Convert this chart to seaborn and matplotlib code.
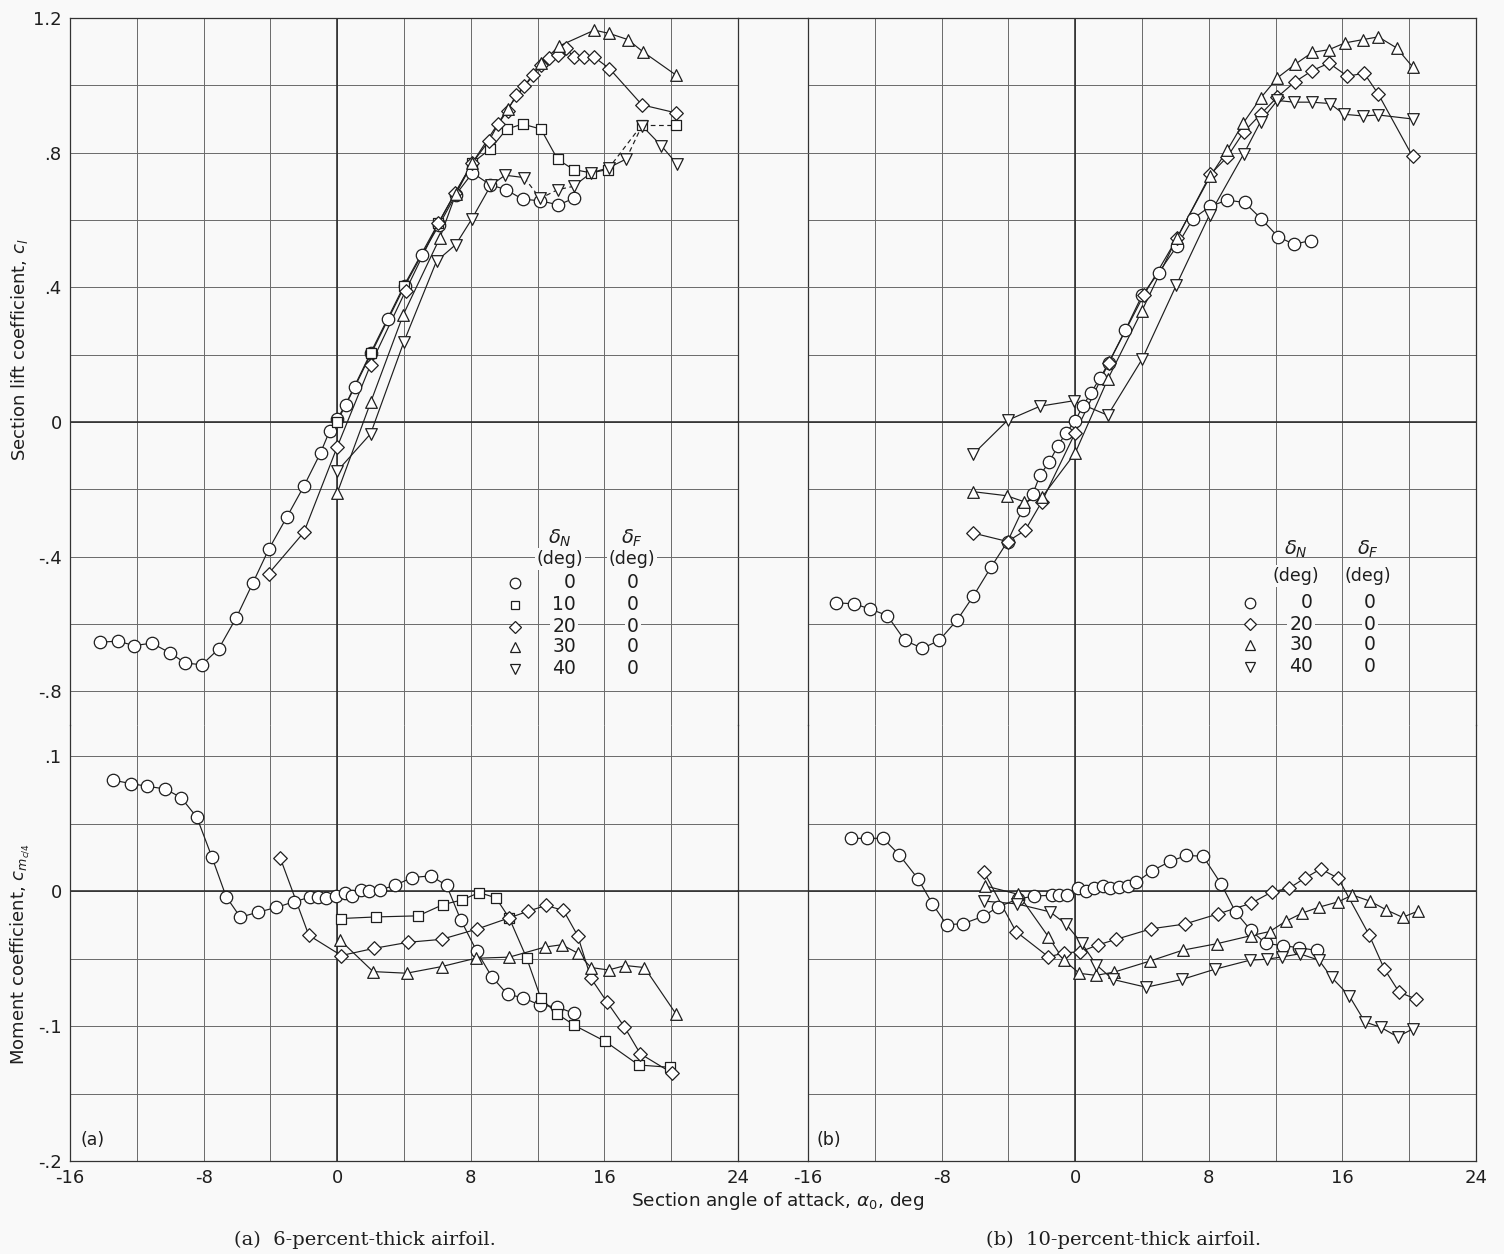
import numpy as np
import pandas as pd
import matplotlib
matplotlib.use("Agg")
import matplotlib.pyplot as plt
from matplotlib.lines import Line2D
import seaborn as sns

# ---------------- data: (a) 6-percent-thick airfoil, lift ----------------
a_lift_alpha_0 = [-14.2, -13.15, -12.15, -11.1, -10.0, -9.1, -8.1, -7.1, -6.05, -5.05, -4.1, -3.0, -2.0, -1.0,
                  -0.45, 0.0, 0.5, 1.05, 2.05, 3.05, 4.05, 5.05, 6.1, 7.1, 8.1, 9.15, 10.1, 11.1, 12.15, 13.25, 14.2]
a_lift_cl_0 = [-0.654, -0.651, -0.664, -0.657, -0.686, -0.716, -0.721, -0.674, -0.582, -0.478, -0.378, -0.281,
               -0.191, -0.092, -0.026, 0.01, 0.05, 0.104, 0.205, 0.305, 0.405, 0.495, 0.585, 0.675, 0.74, 0.705,
               0.69, 0.662, 0.657, 0.645, 0.665]
a_lift_alpha_10 = [0.0, 2.0, 4.0, 6.05, 8.1, 9.15, 10.15, 11.1, 12.2, 13.2, 14.15, 15.2, 16.2, 18.25, 20.3]
a_lift_cl_10 = [0.0, 0.205, 0.405, 0.59, 0.77, 0.81, 0.87, 0.885, 0.87, 0.78, 0.75, 0.74, 0.75, 0.883, 0.883]
a_lift_alpha_20 = [-4.1, -2.0, 0.0, 2.0, 4.1, 6.05, 7.05, 8.1, 9.1, 9.65, 10.2, 10.7, 11.2, 11.75, 12.2, 12.7,
                   13.25, 13.7, 14.15, 14.75, 15.35, 16.3, 18.25, 20.3]
a_lift_cl_20 = [-0.45, -0.328, -0.074, 0.17, 0.39, 0.59, 0.68, 0.77, 0.836, 0.886, 0.925, 0.97, 0.997, 1.03,
                1.06, 1.08, 1.09, 1.11, 1.085, 1.085, 1.085, 1.05, 0.942, 0.918]
a_lift_alpha_30 = [0.0, 2.0, 3.95, 6.15, 7.1, 8.1, 10.2, 12.2, 13.3, 15.4, 16.3, 17.4, 18.3, 20.3]
a_lift_cl_30 = [-0.211, 0.058, 0.318, 0.547, 0.677, 0.77, 0.93, 1.065, 1.117, 1.164, 1.154, 1.136, 1.10, 1.03]
a_lift_alpha_40 = [0.0, 2.0, 4.0, 5.95, 7.1, 8.05, 9.2, 10.05, 11.2, 12.15, 13.2, 14.15, 15.2, 16.25, 17.3,
                   18.25, 19.4, 20.35]
a_lift_cl_40 = [-0.146, -0.035, 0.239, 0.478, 0.527, 0.602, 0.703, 0.733, 0.726, 0.664, 0.69, 0.70, 0.74, 0.755,
                0.781, 0.88, 0.821, 0.766]

# ---------------- data: (a) moment ----------------
a_mom_alpha_0 = [-13.4, -12.35, -11.4, -10.3, -9.35, -8.4, -7.5, -6.65, -5.8, -4.75, -3.65, -2.6, -1.6, -1.15,
                 -0.65, -0.1, 0.45, 0.9, 1.4, 1.9, 2.55, 3.45, 4.5, 5.6, 6.55, 7.4, 8.35, 9.25, 10.2, 11.1, 12.15,
                 13.15, 14.15]
a_mom_cm_0 = [0.082, 0.0796, 0.0776, 0.0756, 0.0692, 0.0545, 0.0251, -0.0042, -0.0194, -0.0157, -0.0122, -0.008,
              -0.0045, -0.0045, -0.005, -0.004, -0.0017, -0.0035, 0.0005, -0.0002, 0.0007, 0.0042, 0.010, 0.0112,
              0.0042, -0.0214, -0.0445, -0.0634, -0.0766, -0.0789, -0.0846, -0.0858, -0.0905]
a_mom_alpha_10 = [0.2, 2.35, 4.85, 6.35, 7.45, 8.5, 9.5, 10.3, 11.35, 12.2, 13.15, 14.2, 16.05, 18.05, 19.95]
a_mom_cm_10 = [-0.0204, -0.0192, -0.0184, -0.010, -0.0067, -0.0012, -0.005, -0.020, -0.0498, -0.0796, -0.0908,
               -0.0995, -0.1114, -0.1289, -0.1306]
a_mom_alpha_20 = [-3.4, -1.7, 0.25, 2.2, 4.25, 6.25, 8.4, 10.3, 11.45, 12.5, 13.55, 14.4, 15.2, 16.15, 17.2,
                  18.15, 20.05]
a_mom_cm_20 = [0.0241, -0.0328, -0.0478, -0.0425, -0.038, -0.0358, -0.0281, -0.0199, -0.0149, -0.0107, -0.0144,
               -0.0331, -0.0647, -0.0821, -0.1007, -0.1206, -0.1348]
a_mom_alpha_30 = [0.15, 2.15, 4.15, 6.25, 8.3, 10.3, 12.45, 13.45, 14.4, 15.2, 16.25, 17.25, 18.4, 20.3]
a_mom_cm_30 = [-0.0361, -0.0597, -0.0609, -0.056, -0.0498, -0.049, -0.0415, -0.0398, -0.046, -0.0567, -0.0585,
               -0.0552, -0.0567, -0.0913]

# ---------------- data: (b) 10-percent-thick airfoil, lift ----------------
b_lift_alpha_0 = [-14.35, -13.25, -12.3, -11.25, -10.2, -9.15, -8.15, -7.05, -6.1, -5.05, -4.05, -3.15, -2.55,
                  -2.1, -1.55, -1.05, -0.55, 0.0, 0.45, 0.95, 1.5, 2.0, 3.0, 4.0, 5.0, 6.1, 7.05, 8.1, 9.1, 10.15,
                  11.15, 12.15, 13.1, 14.1]
b_lift_cl_0 = [-0.537, -0.54, -0.555, -0.575, -0.649, -0.672, -0.649, -0.587, -0.517, -0.432, -0.355, -0.26,
               -0.215, -0.157, -0.119, -0.072, -0.032, 0.003, 0.047, 0.087, 0.132, 0.175, 0.273, 0.376, 0.444,
               0.523, 0.604, 0.641, 0.659, 0.652, 0.603, 0.55, 0.528, 0.539]
b_lift_alpha_20 = [-6.1, -4.05, -3.0, -2.0, 0.0, 2.0, 4.1, 6.1, 8.1, 9.1, 10.1, 11.1, 12.1, 13.15, 14.2, 15.2,
                   16.3, 17.3, 18.15, 20.2]
b_lift_cl_20 = [-0.33, -0.355, -0.322, -0.237, -0.032, 0.175, 0.376, 0.546, 0.736, 0.787, 0.862, 0.914, 0.965,
                1.01, 1.044, 1.066, 1.027, 1.036, 0.974, 0.789]
b_lift_alpha_30 = [-6.1, -4.1, -3.05, -2.0, 0.0, 1.95, 4.0, 6.1, 8.1, 9.1, 10.05, 11.1, 12.1, 13.15, 14.2, 15.2,
                   16.15, 17.25, 18.15, 19.25, 20.2]
b_lift_cl_30 = [-0.207, -0.219, -0.237, -0.224, -0.092, 0.127, 0.331, 0.548, 0.731, 0.807, 0.887, 0.962, 1.022,
                1.062, 1.098, 1.106, 1.126, 1.136, 1.144, 1.111, 1.055]
b_lift_alpha_40 = [-6.1, -4.05, -2.1, -0.1, 1.95, 4.0, 6.05, 8.05, 10.1, 11.1, 12.1, 13.1, 14.15, 15.25, 16.1,
                   17.25, 18.15, 20.2]
b_lift_cl_40 = [-0.095, 0.005, 0.047, 0.063, 0.02, 0.186, 0.406, 0.616, 0.797, 0.892, 0.955, 0.95, 0.95, 0.946,
                0.914, 0.909, 0.912, 0.90]

# ---------------- data: (b) moment ----------------
b_mom_alpha_0 = [-13.45, -12.45, -11.5, -10.55, -9.4, -8.55, -7.7, -6.7, -5.5, -4.65, -3.45, -2.45, -1.4, -0.95,
                 -0.5, 0.15, 0.65, 1.1, 1.65, 2.1, 2.6, 3.15, 3.65, 4.6, 5.7, 6.65, 7.65, 8.75, 9.6, 10.5, 11.4,
                 12.45, 13.4, 14.45]
b_mom_cm_0 = [0.039, 0.039, 0.039, 0.027, 0.0088, -0.0095, -0.025, -0.0242, -0.0187, -0.012, -0.006, -0.0037,
              -0.0032, -0.003, -0.003, 0.0025, 0.0001, 0.002, 0.0035, 0.002, 0.003, 0.0037, 0.0063, 0.015, 0.022,
              0.0263, 0.0258, 0.005, -0.0155, -0.0289, -0.0388, -0.0405, -0.042, -0.044]
b_mom_alpha_20 = [-5.45, -3.55, -1.6, -0.65, 0.3, 1.35, 2.45, 4.55, 6.55, 8.55, 10.55, 11.8, 12.8, 13.75, 14.7,
                  15.75, 17.6, 18.5, 19.4, 20.4]
b_mom_cm_20 = [0.0138, -0.030, -0.0488, -0.0458, -0.045, -0.040, -0.0358, -0.028, -0.0245, -0.017, -0.009,
               -0.0005, 0.002, 0.0095, 0.0163, 0.0095, -0.0325, -0.0575, -0.075, -0.080]
b_mom_alpha_30 = [-5.4, -3.4, -1.6, -0.7, 0.25, 1.25, 2.35, 4.45, 6.45, 8.5, 10.55, 11.65, 12.6, 13.6, 14.6,
                  15.75, 16.6, 17.65, 18.6, 19.6, 20.5]
b_mom_cm_30 = [0.0038, -0.0025, -0.034, -0.051, -0.061, -0.0625, -0.060, -0.052, -0.0438, -0.039, -0.033, -0.030,
               -0.0225, -0.0163, -0.012, -0.008, -0.003, -0.0075, -0.0138, -0.0195, -0.015]
b_mom_alpha_40 = [-5.45, -3.5, -1.5, -0.55, 0.4, 1.25, 2.25, 4.25, 6.4, 8.35, 10.45, 11.5, 12.4, 13.45, 14.6,
                  15.35, 16.4, 17.35, 18.3, 19.3, 20.25]
b_mom_cm_40 = [-0.0075, -0.0095, -0.0155, -0.0245, -0.0388, -0.0545, -0.0655, -0.0713, -0.0655, -0.058, -0.0513,
               -0.0505, -0.0488, -0.0465, -0.0513, -0.064, -0.0775, -0.097, -0.101, -0.108, -0.102]

legend_a_deltaN = ["0", "10", "20", "30", "40"]
legend_b_deltaN = ["0", "20", "30", "40"]
legend_deltaF = "0"

lift_ticks = [-0.8, -0.4, 0.0, 0.4, 0.8, 1.2]
lift_tick_labels = ["-.8", "-.4", "0", ".4", ".8", "1.2"]
mom_ticks = [-0.2, -0.1, 0.0, 0.1]
mom_tick_labels = ["-.2", "-.1", "0", ".1"]
x_ticks = [-16, -8, 0, 8, 16, 24]
x_tick_labels = ["-16", "-8", "0", "8", "16", "24"]

MARK = {"0": "o", "10": "s", "20": "D", "30": "^", "40": "v"}
MSIZE = {"0": 80, "10": 58, "20": 48, "30": 70, "40": 70}

# ---------------- figure ----------------
sns.set_theme(style="white")
plt.rcParams["font.family"] = ["DejaVu Sans"]
plt.rcParams["mathtext.fontset"] = "dejavusans"
INK = "#1e1e1e"
GRID = "#6a6a6a"
BG = "#f9f9f9"

W, H = 1504, 1254
fig = plt.figure(figsize=(W / 100, H / 100), dpi=100)
fig.patch.set_facecolor(BG)


def rect(x0, y0, x1, y1):
    return [x0 / W, 1 - y1 / H, (x1 - x0) / W, (y1 - y0) / H]


L0, L1, R0, R1 = 70, 738, 808, 1476
TOP, MID, BOT = 18, 725, 1161
LIFT_LIM = (-0.9, 1.2)
MOM_LIM = (-0.2, -0.2 + (BOT - MID) / 1350.0)

axLa = fig.add_axes(rect(L0, TOP, L1, MID))
axMa = fig.add_axes(rect(L0, MID, L1, BOT))
axLb = fig.add_axes(rect(R0, TOP, R1, MID))
axMb = fig.add_axes(rect(R0, MID, R1, BOT))


def style_axes(ax, kind, ylabels):
    ax.set_facecolor("none")
    ax.set_xlim(-16, 24)
    xt = np.arange(-16, 25, 4)
    ax.set_xticks(xt)
    if kind == "lift":
        ax.set_ylim(*LIFT_LIM)
        yt = np.round(np.arange(-0.8, 1.21, 0.2), 2)
        labs = {round(v, 2): s for v, s in zip(lift_ticks, lift_tick_labels)}
        ax.set_xticklabels([""] * len(xt))
        ax.spines["bottom"].set_visible(False)
        nd = 2
    else:
        ax.set_ylim(*MOM_LIM)
        yt = np.round(np.arange(-0.2, 0.101, 0.05), 3)
        labs = {round(v, 3): s for v, s in zip(mom_ticks, mom_tick_labels)}
        xl = {v: s for v, s in zip(x_ticks, x_tick_labels)}
        ax.set_xticklabels([xl.get(int(v), "") for v in xt], fontsize=13, color=INK)
        ax.spines["top"].set_visible(False)
        nd = 3
    ax.set_yticks(yt)
    if ylabels:
        ax.set_yticklabels([labs.get(round(v, nd), "") for v in yt], fontsize=13, color=INK)
    else:
        ax.set_yticklabels([""] * len(yt))
    ax.tick_params(length=0, pad=6)
    ax.grid(True, color=GRID, lw=0.7)
    for s in ["left", "right", "top", "bottom"]:
        ax.spines[s].set_color("#333333")
        ax.spines[s].set_linewidth(0.9)
    ax.axhline(0, color="#2a2a2a", lw=1.15, zorder=1)
    ax.axvline(0, color="#2a2a2a", lw=1.15, zorder=1)


style_axes(axLa, "lift", True)
style_axes(axMa, "mom", True)
style_axes(axLb, "lift", False)
style_axes(axMb, "mom", False)

# horizontal rules across the gap between the two panels (major values only)
inv = fig.transFigure.inverted()
x_gap0 = inv.transform(axLa.transData.transform((24, 0)))[0]
x_gap1 = inv.transform(axLb.transData.transform((-16, 0)))[0]
for ax, vals in [(axLa, lift_ticks), (axMa, mom_ticks)]:
    for v in vals:
        yf = inv.transform(ax.transData.transform((0, v)))[1]
        lw = 1.15 if v == 0 else (0.9 if v in (1.2, -0.2) else 0.7)
        col = "#2a2a2a" if v == 0 else ("#333333" if v in (1.2, -0.2) else GRID)
        fig.add_artist(Line2D([x_gap0, x_gap1], [yf, yf], transform=fig.transFigure, color=col, lw=lw))


def series(ax, x, y, key, dashed_ranges=()):
    df = pd.DataFrame({"alpha": x, "c": y})
    xs = np.array(x)
    bounds = sorted(set([xs[0], xs[-1]] + [b for r in dashed_ranges for b in r]))
    for i in range(len(bounds) - 1):
        lo, hi = bounds[i], bounds[i + 1]
        seg = df[(df.alpha >= lo - 1e-9) & (df.alpha <= hi + 1e-9)]
        if len(seg) < 2:
            continue
        dashed = any(abs(lo - r[0]) < 1e-9 and abs(hi - r[1]) < 1e-9 for r in dashed_ranges)
        sns.lineplot(data=seg, x="alpha", y="c", ax=ax, color=INK, lw=0.85, sort=False,
                     estimator=None, legend=False, linestyle=(0, (4, 3)) if dashed else "-", zorder=3)
    sns.scatterplot(data=df, x="alpha", y="c", ax=ax, marker=MARK[key], s=MSIZE[key],
                    facecolor="white", edgecolor=INK, linewidth=0.9, legend=False, zorder=4)
    ax.set_xlabel("")
    ax.set_ylabel("")


series(axLa, a_lift_alpha_0, a_lift_cl_0, "0")
series(axLa, a_lift_alpha_10, a_lift_cl_10, "10", dashed_ranges=[(16.2, 18.25), (18.25, 20.3)])
series(axLa, a_lift_alpha_20, a_lift_cl_20, "20")
series(axLa, a_lift_alpha_30, a_lift_cl_30, "30")
series(axLa, a_lift_alpha_40, a_lift_cl_40, "40", dashed_ranges=[(11.2, 14.15), (17.3, 18.25)])

series(axMa, a_mom_alpha_0, a_mom_cm_0, "0")
series(axMa, a_mom_alpha_10, a_mom_cm_10, "10")
series(axMa, a_mom_alpha_20, a_mom_cm_20, "20")
series(axMa, a_mom_alpha_30, a_mom_cm_30, "30")

series(axLb, b_lift_alpha_0, b_lift_cl_0, "0")
series(axLb, b_lift_alpha_20, b_lift_cl_20, "20")
series(axLb, b_lift_alpha_30, b_lift_cl_30, "30")
series(axLb, b_lift_alpha_40, b_lift_cl_40, "40")

series(axMb, b_mom_alpha_0, b_mom_cm_0, "0")
series(axMb, b_mom_alpha_20, b_mom_cm_20, "20")
series(axMb, b_mom_alpha_30, b_mom_cm_30, "30")
series(axMb, b_mom_alpha_40, b_mom_cm_40, "40")


# ---------------- legends (text tables) ----------------
def legend_table(ax, x0px, keys, hdr_y, deg_y, rows_y, xm, xn, xf, hn, hf):
    def fx(px):
        return (px - x0px) / (L1 - L0)

    def fy(py):
        return (MID - py) / (MID - TOP)

    box = dict(boxstyle="square,pad=0.1", fc=BG, ec="none")
    ax.text(fx(hn), fy(hdr_y), r"$\delta_N$", transform=ax.transAxes, ha="center", va="center",
            fontsize=14, color=INK)
    ax.text(fx(hf), fy(hdr_y), r"$\delta_F$", transform=ax.transAxes, ha="center", va="center",
            fontsize=14, color=INK)
    ax.text(fx(hn), fy(deg_y), "(deg)", transform=ax.transAxes, ha="center", va="center",
            fontsize=12.5, color=INK, bbox=box)
    ax.text(fx(hf), fy(deg_y), "(deg)", transform=ax.transAxes, ha="center", va="center",
            fontsize=12.5, color=INK, bbox=box)
    for k, ry in zip(keys, rows_y):
        ax.plot([fx(xm)], [fy(ry)], transform=ax.transAxes, marker=MARK[k],
                ms=np.sqrt(MSIZE[k]) * 0.85, mfc="white", mec=INK, mew=0.9, ls="none", zorder=5)
        ax.text(fx(xn), fy(ry), k, transform=ax.transAxes, ha="right", va="center",
                fontsize=13.5, color=INK, bbox=box)
        ax.text(fx(xf), fy(ry), legend_deltaF, transform=ax.transAxes, ha="center", va="center",
                fontsize=13.5, color=INK, bbox=box)


legend_table(axLa, L0, legend_a_deltaN, 538, 559, [583, 605, 627, 647, 669],
             515, 576, 633, 560, 632)
legend_table(axLb, R0, legend_b_deltaN, 549, 576, [603, 624, 645, 667],
             1250, 1313, 1370, 1296, 1368)

# ---------------- labels ----------------
fig.text(20 / W, 1 - 350 / H, r"Section lift coefficient, $c_l$", rotation=90, ha="center", va="center",
         fontsize=13, color=INK)
fig.text(20 / W, 1 - 954 / H, r"Moment coefficient, $c_{m_{c/4}}$", rotation=90, ha="center", va="center",
         fontsize=13, color=INK)
fig.text(778 / W, 1 - 1201 / H, r"Section angle of attack, $\alpha_0$, deg", ha="center", va="center",
         fontsize=13.3, color=INK)
axMa.text((80 - L0) / (L1 - L0), (BOT - 1140) / (BOT - MID), "(a)", transform=axMa.transAxes,
          ha="left", va="center", fontsize=12.5, color=INK)
axMb.text((816 - R0) / (R1 - R0), (BOT - 1140) / (BOT - MID), "(b)", transform=axMb.transAxes,
          ha="left", va="center", fontsize=12.5, color=INK)
fig.text(365 / W, 1 - 1240 / H, "(a)  6-percent-thick airfoil.", ha="center", va="center",
         fontsize=14, family="DejaVu Serif", color=INK)
fig.text(1124 / W, 1 - 1240 / H, "(b)  10-percent-thick airfoil.", ha="center", va="center",
         fontsize=14, family="DejaVu Serif", color=INK)

fig.savefig("out.png", dpi=100, facecolor=fig.get_facecolor())
